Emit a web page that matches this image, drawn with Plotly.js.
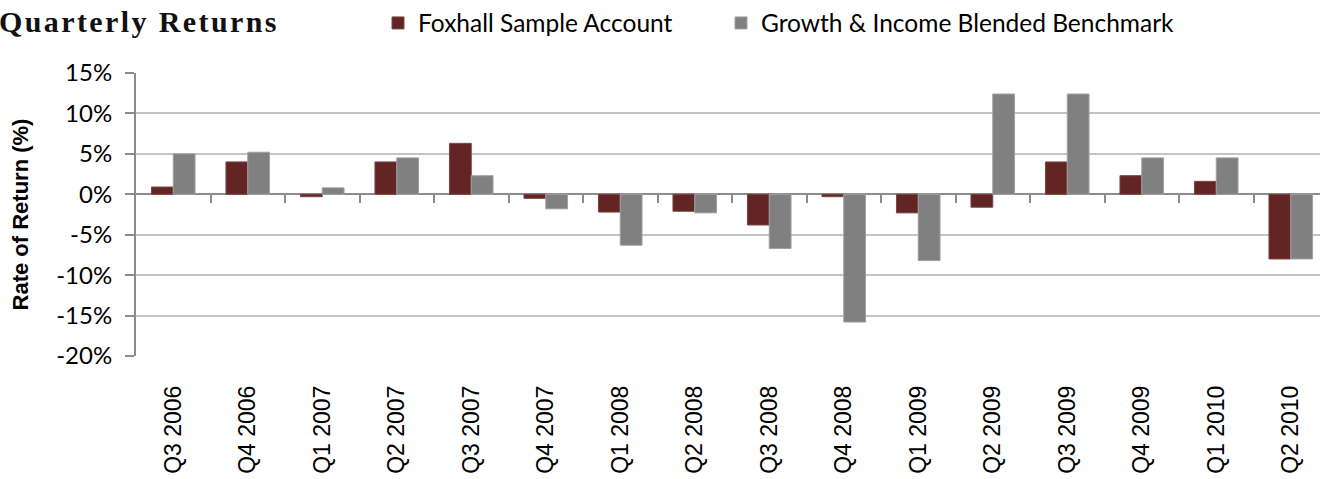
<!DOCTYPE html>
<html>
<head>
<meta charset="utf-8">
<script src="https://cdn.plot.ly/plotly-3.0.1.min.js"></script>
<style>
  html, body { margin: 0; padding: 0; width: 1320px; height: 479px; overflow: hidden; background: #fff; }
  #chart { width: 1328px; height: 479px; }
  .annotation-text { letter-spacing: 2.4px; }
</style>
</head>
<body>
<div id="chart"></div>
<script>
// ---- Data ----
const categories = ['Q3 2006','Q4 2006','Q1 2007','Q2 2007','Q3 2007','Q4 2007','Q1 2008','Q2 2008',
                    'Q3 2008','Q4 2008','Q1 2009','Q2 2009','Q3 2009','Q4 2009','Q1 2010','Q2 2010'];
const foxhall   = [0.9, 4.0, -0.3, 4.0, 6.3, -0.5, -2.2, -2.1, -3.8, -0.3, -2.3, -1.6, 4.0, 2.3, 1.6, -8.0];
const benchmark = [5.0, 5.2, 0.8, 4.5, 2.3, -1.8, -6.3, -2.3, -6.7, -15.8, -8.2, 12.4, 12.4, 4.5, 4.5, -8.0];
const seriesNames = ['Foxhall Sample Account', 'Growth & Income Blended Benchmark'];
const yTickVals = [-20, -15, -10, -5, 0, 5, 10, 15];
const chartTitle = 'Quarterly Returns';
const yTitle = 'Rate of Return (%)';

const RED = '#632523';
const GRAY = '#808080';
const AXIS = '#8c8c8c';

// category boundaries for the tick marks hanging off the zero line
const boundaries = categories.slice(1).map((_, i) => i + 0.5);
const yMin = -20, yMax = 15;
const W = 1328, H = 479;
const legendFont = { family: 'Lato, sans-serif', size: 24.5, color: '#000' };

const traces = [
  {
    type: 'bar', name: seriesNames[0], x: categories, y: foxhall, legend: 'legend',
    marker: { color: RED, line: { color: '#7a4644', width: 1 } }
  },
  {
    type: 'bar', name: seriesNames[1], x: categories, y: benchmark, legend: 'legend2',
    marker: { color: GRAY, line: { color: '#a0a0a0', width: 1 } }
  },
  {
    type: 'scatter', x: [], y: [], xaxis: 'x2', yaxis: 'y',
    showlegend: false, hoverinfo: 'skip'
  }
];

const layout = {
  width: W, height: H,
  margin: { l: 136, r: 0, t: 73, b: 123, pad: 0 },
  paper_bgcolor: '#ffffff', plot_bgcolor: '#ffffff',
  barmode: 'group', bargap: 0.415, bargroupgap: 0,
  showlegend: true,
  legend: {
    orientation: 'h', xref: 'container', yref: 'container',
    x: 378 / W, xanchor: 'left', y: 1 - 23 / H, yanchor: 'middle',
    font: legendFont, bgcolor: 'rgba(0,0,0,0)', borderwidth: 0
  },
  legend2: {
    orientation: 'h', xref: 'container', yref: 'container',
    x: 721 / W, xanchor: 'left', y: 1 - 23 / H, yanchor: 'middle',
    font: legendFont, bgcolor: 'rgba(0,0,0,0)', borderwidth: 0
  },
  xaxis: {
    type: 'category', categoryorder: 'array', categoryarray: categories,
    range: [-0.5, categories.length - 0.5],
    showline: false, showgrid: false, zeroline: false, ticks: '',
    tickangle: -90, ticklabelstandoff: 24,
    tickfont: { family: '"Liberation Sans", Arial, sans-serif', size: 23, color: '#000' },
    fixedrange: true
  },
  xaxis2: {
    overlaying: 'x', anchor: 'free', position: (0 - yMin) / (yMax - yMin), side: 'bottom',
    type: 'linear', range: [-0.5, categories.length - 0.5],
    tickmode: 'array', tickvals: boundaries,
    ticks: 'outside', ticklen: 8, tickwidth: 2, tickcolor: AXIS,
    showticklabels: false, showline: false, showgrid: false, zeroline: false,
    fixedrange: true
  },
  yaxis: {
    range: [yMin, yMax], tickmode: 'array', tickvals: yTickVals,
    ticktext: yTickVals.map(v => v + '%'),
    showgrid: true, gridcolor: '#c4c4c4', gridwidth: 2,
    zeroline: true, zerolinecolor: AXIS, zerolinewidth: 2,
    showline: true, linecolor: AXIS, linewidth: 2,
    ticks: 'outside', ticklen: 9, tickwidth: 2, tickcolor: AXIS,
    ticklabelstandoff: 8,
    tickfont: { family: 'Lato, sans-serif', size: 24, color: '#000' },
    title: {
      text: yTitle, standoff: 22,
      font: { family: '"Liberation Sans", Arial, sans-serif', size: 22, color: '#000', weight: 'bold' }
    },
    automargin: false, fixedrange: true
  },
  annotations: [
    {
      text: '<b>' + chartTitle + '</b>', showarrow: false,
      xref: 'paper', yref: 'paper', x: 0, xanchor: 'left', xshift: -139,
      y: (356 - 21) / 283, yanchor: 'middle',
      font: { family: '"Liberation Serif", "Times New Roman", serif', size: 30, color: '#111' }
    }
  ],
  hovermode: false
};

Plotly.newPlot('chart', traces, layout, { displayModeBar: false, staticPlot: true });
</script>
</body>
</html>
